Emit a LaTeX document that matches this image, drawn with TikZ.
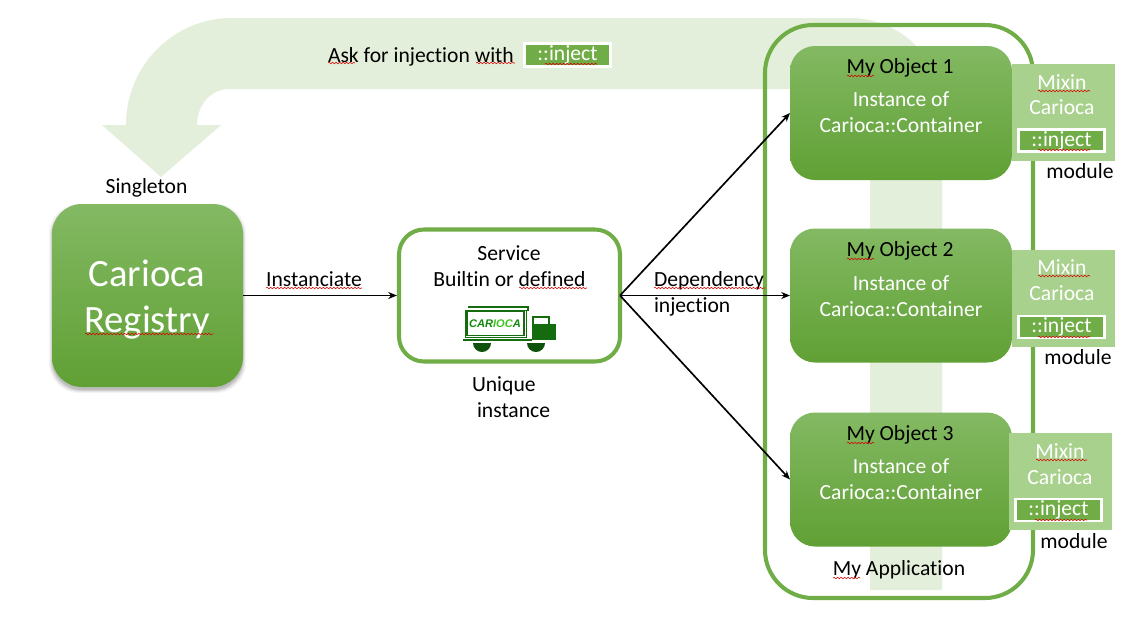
\documentclass[tikz,border=0pt]{standalone}
\usepackage{fontspec}
\setmainfont[Ligatures=CommonOff]{Carlito}
\usetikzlibrary{arrows.meta,decorations.pathmorphing}
\definecolor{gbase}{HTML}{70AD47}
\definecolor{gtop}{HTML}{83B963}
\definecolor{gmid}{HTML}{6DAD42}
\definecolor{gbot}{HTML}{60A034}
\definecolor{band}{HTML}{E4EFDB}
\definecolor{mixin}{HTML}{A9D18E}
\definecolor{truck}{HTML}{146C0E}
\definecolor{truckwheel}{HTML}{0E520C}
\definecolor{ioc}{HTML}{3FC41F}
\def\pxu{0.02cm}
\newcommand{\injtext}{\raisebox{0pt}[8pt][1.2pt]{::inject}\hspace{4.5pt}}
\tikzset{
  x=0.02cm,y=-0.02cm,
  txt/.style={inner sep=0pt,outer sep=0pt,yshift=-0.4pt,font=\fontsize{12.3}{14}\selectfont,text=black},
  wtxt/.style={txt,text=white},
  bigtxt/.style={inner sep=0pt,outer sep=0pt,font=\fontsize{22}{26}\selectfont,text=white},
  gbox/.style={rectangle,rounded corners=25*\pxu,minimum width=222*\pxu,minimum height=134*\pxu,inner sep=0pt,outer sep=0pt,top color=gtop,middle color=gmid,bottom color=gbot},
  mixbox/.style={rectangle,fill=mixin,minimum width=103*\pxu,minimum height=97*\pxu,inner sep=0pt,outer sep=0pt},
  injbox/.style={rectangle,fill=gbase,draw=white,line width=1.2pt,minimum width=86*\pxu,minimum height=22*\pxu,inner sep=0pt,outer sep=0pt,text=white,font=\fontsize{12.3}{14}\selectfont},
  frame/.style={rectangle,draw=gbase,line width=2.3pt,fill=none,inner sep=0pt},
  link/.style={-{Stealth[length=5pt,width=4pt]},line width=0.95pt,black},
  squig/.style={draw=red!85!black,line width=0.3pt,decorate,decoration={snake,amplitude=0.45pt,segment length=2pt}}
}
\newcommand{\squigline}[3]{\draw[squig] (#1,#3) -- (#2,#3);}
\begin{document}
\begin{tikzpicture}
\useasboundingbox (0,0) rectangle (1132,619);
\fill[white] (0,0) rectangle (1132,619);

% large bent arrow
\fill[band] (942,590) -- (870,590) -- (870,110) -- (850,89) -- (229,89)
  .. controls (211,89) and (197,105) .. (197,125)
  -- (221,125) -- (161,177) -- (102,125) -- (126,125)
  .. controls (126,66) and (173,18) .. (232,18)
  -- (850,18) .. controls (901,18) and (942,59) .. (942,110) -- cycle;

% application frame
\node[frame,rounded corners=48*\pxu,minimum width=268*\pxu,minimum height=573*\pxu] (app) at (899,311.5) {};

% registry shadow
\foreach \g/\o in {3/0.04,2/0.06,1/0.08,0/0.10}{
  \fill[black,opacity=\o,rounded corners=30*\pxu] (52-\g,204+3-\g) rectangle (243+\g,387+3+\g);
}
% registry
\node[gbox,rounded corners=30*\pxu,minimum width=191*\pxu,minimum height=183*\pxu] (registry) at (147.5,295.5) {};
\node[bigtxt] (regA) at (147,273) {Carioca};
\node[bigtxt] (regB) at (147,322.5) {Registry};
\squigline{85}{213}{334}
\node[txt] (singleton) at (146.5,187) {Singleton};

% service
\node[frame,fill=white,rounded corners=25*\pxu,minimum width=221*\pxu,minimum height=132*\pxu] (service) at (509.5,295.5) {};
\node[txt] (svcA) at (509,252) {Service};
\node[txt] (svcB) at (509.5,278) {Builtin or defined};
\squigline{519}{587}{288}
\node[txt,anchor=west] (uniqueA) at (472,385.5) {Unique};
\node[txt,anchor=west] (uniqueB) at (477,409) {instance};

% truck
\fill[truck] (468,306) rectangle (528,307.5);
\fill[truck] (527,306) rectangle (528.5,311);
\draw[truck,line width=1pt] (467,311.5) rectangle (524,335.5);
\draw[truck,line width=0.35pt] (465,310) rectangle (526,337);
\fill[truck] (463,339) rectangle (532,340.5);
\fill[truck] (532,316) rectangle (550,324);
\fill[truck] (532,324) rectangle (556,340);
\fill[white] (534,318) rectangle (548,324);
\fill[truckwheel] (473,343) arc[start angle=180,end angle=0,radius=9] -- cycle;
\fill[truckwheel] (527,343) arc[start angle=180,end angle=0,radius=9] -- cycle;
\node[inner sep=0pt,outer sep=0pt,font=\fontsize{6.3}{8}\selectfont\bfseries\itshape\fontspec{Liberation Sans}] (logo) at (495,324)
  {\textcolor{truck!80!green}{CAR}\textcolor{ioc}{IOC}\textcolor{truck!80!green}{A}};

% connectors
\coordinate (svcOut) at (620,295.5);
\node[gbox] (obj1) at (901,113) {};
\node[gbox] (obj2) at (901,295.5) {};
\node[gbox] (obj3) at (901,479.5) {};
\draw[link] (registry.east) -- (service.west);
\draw[link] (svcOut) -- (obj1.west);
\draw[link] (svcOut) -- (obj2.west);
\draw[link] (svcOut) -- (obj3.west);
\node[txt] (inst) at (314,278) {Instanciate};
\squigline{266}{362}{288}
\node[txt,anchor=west] (depA) at (654,280.5) {Dependency};
\node[txt,anchor=west] (depB) at (654,306) {injection};
\squigline{654}{765}{288}

% top label
\node[txt,anchor=west] (ask) at (328,56) {Ask for injection with};
\squigline{328}{355}{63}
\squigline{476}{515}{63}
\node[injbox,minimum width=86*\pxu,minimum height=23*\pxu] (injTop) at (567.5,55) {\injtext};
\squigline{545}{597}{64}

% object 1
\node[txt] (o1t) at (900,67) {My Object 1};
\squigline{847}{874}{76}
\node[wtxt] (o1a) at (901,98) {Instance of};
\node[wtxt] (o1b) at (901,124) {Carioca::Container};
\node[mixbox] (mix1) at (1063.5,112.5) {};
\node[wtxt] (m1a) at (1062,81) {Mixin};
\squigline{1038}{1090}{91}
\node[wtxt] (m1b) at (1062,106) {Carioca};
\node[injbox] (inj1) at (1061.5,140.5) {\injtext};
\squigline{1038}{1090}{150}
\node[txt] (mod1) at (1080,170) {module};

% object 2
\node[txt] (o2t) at (900,250) {My Object 2};
\squigline{847}{874}{259}
\node[wtxt] (o2a) at (901,282) {Instance of};
\node[wtxt] (o2b) at (901,308) {Carioca::Container};
\node[mixbox] (mix2) at (1063.5,298.5) {};
\node[wtxt] (m2a) at (1062,266) {Mixin};
\squigline{1038}{1090}{276}
\node[wtxt] (m2b) at (1062,292) {Carioca};
\node[injbox] (inj2) at (1061.5,327) {\injtext};
\squigline{1038}{1090}{337}
\node[txt] (mod2) at (1078,356) {module};

% object 3
\node[txt] (o3t) at (900,434) {My Object 3};
\squigline{847}{874}{443}
\node[wtxt] (o3a) at (901,465) {Instance of};
\node[wtxt] (o3b) at (901,491) {Carioca::Container};
\node[mixbox] (mix3) at (1060,481.5) {};
\node[wtxt] (m3a) at (1060,450) {Mixin};
\squigline{1036}{1087}{460}
\node[wtxt] (m3b) at (1060,476) {Carioca};
\node[injbox] (inj3) at (1058.5,510) {\injtext};
\squigline{1035}{1087}{520}
\node[txt] (mod3) at (1074,540) {module};

\node[txt] (appl) at (899,569) {My Application};
\squigline{833}{860}{578}
\end{tikzpicture}
\end{document}
